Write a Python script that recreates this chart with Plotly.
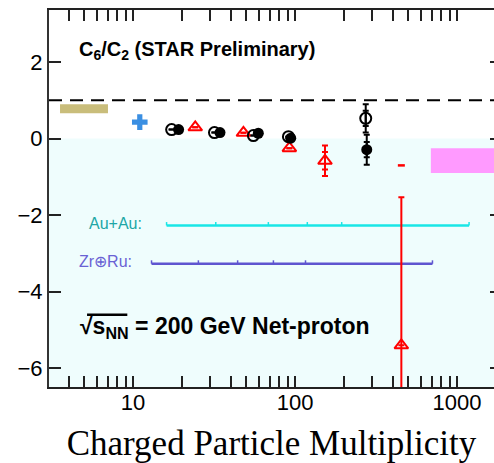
import plotly.graph_objects as go

# ---- data -------------------------------------------------------------
# open black circles
open_mult = [17.3, 31.8, 55.3, 91.0, 273.0]
open_c6c2 = [0.235, 0.157, 0.08, 0.05, 0.53]
open_stat = [0.0, 0.0, 0.0, 0.0, 0.37]
open_sys = [0.0, 0.0, 0.0, 0.0, 0.20]

# filled black circles
fill_mult = [19.1, 34.4, 59.3, 94.0, 277.0]
fill_c6c2 = [0.235, 0.157, 0.14, 0.01, -0.29]
fill_stat = [0.0, 0.0, 0.0, 0.0, 0.39]
fill_sys = [0.0, 0.0, 0.0, 0.0, 0.20]

# open red triangles
tri_mult = [24.2, 48.0, 92.2, 153.0, 453.0]
tri_c6c2 = [0.295, 0.15, -0.25, -0.58, -5.40]
tri_stat = [0.0, 0.0, 0.0, 0.40, 3.87]
tri_sys = [0.0, 0.0, 0.0, 0.23, 0.0]
tri_sys_cap_mult = [453.0]
tri_sys_cap_c6c2 = [-0.70]

# blue cross
cross_mult = [11.0]
cross_c6c2 = [0.43]

# model bands  [x0, x1], [y0, y1]
olive_x = [3.54, 7.0]
olive_y = [0.66, 0.90]
pink_x = [689.0, 2500.0]
pink_y = [-0.90, -0.25]

# multiplicity ranges (centrality-bin edges)
auau_edges = [16.1, 32.4, 68.4, 119.0, 194.0, 1186.0]
auau_level = -2.27
zrru_edges = [13.0, 25.3, 44.2, 73.5, 116.0, 705.0]
zrru_level = -3.27

x_range = [0.481, 3.228]   # log10
y_range = [-6.49, 3.36]

x_ticks = [10, 100, 1000]
x_ticktext = ["10", "100", "1000"]
x_minor = [m * d for d in (1, 10, 100) for m in range(2, 10)] + [2000]
y_ticks = [-6, -4, -2, 0, 2]

BLACK = "#000000"
RED = "#ff0000"
CYAN = "#19e6e6"
TEAL_TXT = "#20a6a6"
SLATE = "#5f55d0"
SLATE_TXT = "#6a62d4"

fig = go.Figure()

# bin-range bars
for edges, lvl, col in ((auau_edges, auau_level, CYAN), (zrru_edges, zrru_level, SLATE)):
    fig.add_trace(go.Scatter(x=[edges[0], edges[-1]], y=[lvl, lvl], mode="lines",
                             line=dict(color=col, width=2.5), hoverinfo="skip"))
    fig.add_trace(go.Scatter(x=edges, y=[lvl] * len(edges), mode="markers",
                             marker=dict(size=1, color=col, opacity=0),
                             error_y=dict(type="data", symmetric=False,
                                          array=[0.09] * len(edges),
                                          arrayminus=[0] * len(edges),
                                          thickness=1.5, width=0, color=col),
                             hoverinfo="skip"))

# blue cross
fig.add_trace(go.Scatter(x=cross_mult, y=cross_c6c2, mode="markers",
                         marker=dict(symbol="cross", size=13, color="#3b8fe2",
                                     line=dict(width=0))))

# systematic error ticks (no markers)
for xs, ys, es, col in ((open_mult, open_c6c2, open_sys, BLACK),
                        (fill_mult, fill_c6c2, fill_sys, BLACK),
                        (tri_mult, tri_c6c2, tri_sys, RED)):
    fig.add_trace(go.Scatter(x=xs, y=ys, mode="markers",
                             marker=dict(size=1, opacity=0),
                             error_y=dict(type="data", array=es, thickness=2,
                                          width=3, color=col),
                             hoverinfo="skip"))

# red triangles
fig.add_trace(go.Scatter(x=tri_mult, y=tri_c6c2, mode="markers",
                         marker=dict(symbol="triangle-up-open", size=12,
                                     color=RED, line=dict(width=2, color=RED)),
                         error_y=dict(type="data", array=tri_stat, thickness=2,
                                      width=3, color=RED)))
fig.add_trace(go.Scatter(x=tri_sys_cap_mult, y=tri_sys_cap_c6c2, mode="markers",
                         marker=dict(symbol="line-ew-open", size=5, color=RED,
                                     line=dict(width=2.5, color=RED))))

# open circles
fig.add_trace(go.Scatter(x=open_mult, y=open_c6c2, mode="markers",
                         marker=dict(symbol="circle-open", size=11, color=BLACK,
                                     line=dict(width=2, color=BLACK)),
                         error_y=dict(type="data", array=open_stat, thickness=2,
                                      width=3, color=BLACK)))
# filled circles
fig.add_trace(go.Scatter(x=fill_mult, y=fill_c6c2, mode="markers",
                         marker=dict(symbol="circle", size=11, color=BLACK),
                         error_y=dict(type="data", array=fill_stat, thickness=2,
                                      width=3, color=BLACK)))

# right-hand tick marks
fig.add_trace(go.Scatter(x=[None], y=[None], yaxis="y2", showlegend=False,
                         hoverinfo="skip"))

shapes = [
    # shaded negative region
    dict(type="rect", xref="paper", yref="y", x0=0, x1=1, y0=y_range[0], y1=0,
         fillcolor="#effdfd", line=dict(width=0), layer="below"),
    # reference line at unity
    dict(type="line", xref="paper", yref="y", x0=0, x1=1, y0=1, y1=1,
         line=dict(color=BLACK, width=2, dash="13px,8px"), layer="below"),
    dict(type="rect", xref="x", yref="y",
         x0=olive_x[0], x1=olive_x[1], y0=olive_y[0], y1=olive_y[1],
         fillcolor="#c9bd7b", line=dict(width=0), layer="below"),
    dict(type="rect", xref="x", yref="y",
         x0=pink_x[0], x1=pink_x[1], y0=pink_y[0], y1=pink_y[1],
         fillcolor="#ff9aff", line=dict(width=0), layer="below"),
    # radical bar over s_NN
    dict(type="line", xref="paper", yref="y", x0=0.0855, x1=0.176,
         y0=-4.60, y1=-4.60, line=dict(color=BLACK, width=2.5)),
]

annotations = [
    dict(text="<b>C<sub>6</sub>/C<sub>2</sub> (STAR Preliminary)</b>",
         xref="paper", yref="paper", x=0.063, y=0.893, xanchor="left",
         yanchor="middle", showarrow=False,
         font=dict(family="Liberation Sans, Arial", size=20, color=BLACK)),
    dict(text="Au+Au:", xref="paper", yref="y", x=0.086, y=-2.21,
         xanchor="left", yanchor="middle", showarrow=False,
         font=dict(family="Liberation Sans, Arial", size=16, color=TEAL_TXT)),
    dict(text="Zr⊕Ru:", xref="paper", yref="y", x=0.062, y=-3.20,
         xanchor="left", yanchor="middle", showarrow=False,
         font=dict(family="Liberation Sans, Arial", size=16, color=SLATE_TXT)),
    dict(text="<b>√s<sub>NN</sub> = 200 GeV Net-proton</b>",
         xref="paper", yref="y", x=0.066, y=-4.93, xanchor="left",
         yanchor="middle", showarrow=False,
         font=dict(family="Liberation Sans, Arial", size=23, color=BLACK)),
]

fig.update_layout(
    width=494, height=463,
    margin=dict(l=49, r=0, t=10, b=76, pad=0),
    paper_bgcolor="white", plot_bgcolor="white",
    showlegend=False,
    shapes=shapes, annotations=annotations,
    font=dict(family="Liberation Sans, Arial", color=BLACK),
    xaxis=dict(
        type="log", range=x_range, tickvals=x_ticks, ticktext=x_ticktext,
        ticks="inside", ticklen=11, tickwidth=1.5, tickcolor="#222",
        showline=True, linecolor="#222", linewidth=2, mirror="allticks",
        showgrid=False, zeroline=False, ticklabelstandoff=-5,
        tickfont=dict(size=22, color=BLACK),
        minor=dict(tickmode="array", tickvals=x_minor, ticks="inside",
                   ticklen=6, tickwidth=1.5, tickcolor="#222", showgrid=False),
        title=dict(text="Charged Particle Multiplicity", standoff=18,
                   font=dict(family="Liberation Serif, DejaVu Serif", size=35,
                             color=BLACK)),
    ),
    yaxis=dict(
        range=y_range, tickvals=y_ticks, ticks="inside", ticklen=12,
        tickwidth=1.5, tickcolor="#222", showline=True, linecolor="#333",
        linewidth=2, mirror=False, showgrid=False, zeroline=False,
        tickfont=dict(size=22, color=BLACK),
    ),
    yaxis2=dict(
        range=y_range, overlaying="y", side="right", tickvals=y_ticks,
        ticks="inside", ticklen=4, tickwidth=1.5, tickcolor="#222",
        showticklabels=False, showline=False, showgrid=False, zeroline=False,
    ),
)

fig.write_html("out.html")
